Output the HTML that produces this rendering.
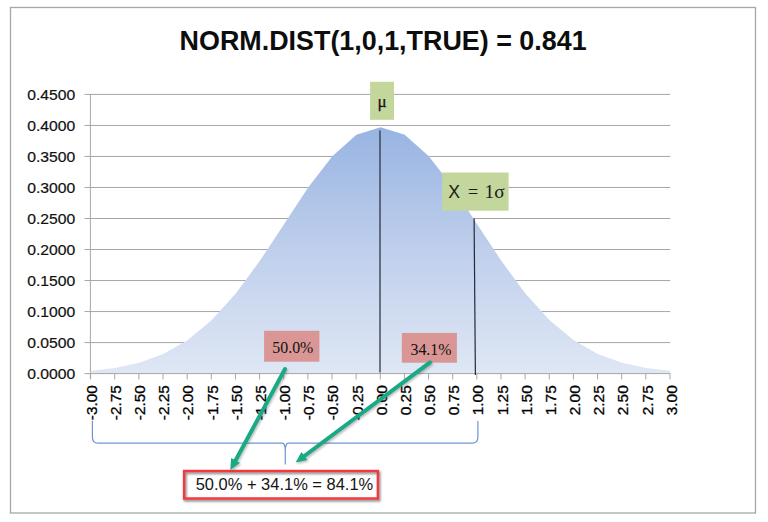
<!DOCTYPE html>
<html lang="en"><head><meta charset="utf-8"><title>NORM.DIST chart</title>
<style>html,body{margin:0;padding:0;background:#fff}body{width:768px;height:522px;overflow:hidden}svg{display:block}.sans{font-family:"Liberation Sans",sans-serif}.serif{font-family:"Liberation Serif",serif}</style></head><body>
<svg width="768" height="522" viewBox="0 0 768 522">
<defs><linearGradient id="g" x1="0" y1="0" x2="0" y2="1"><stop offset="0" stop-color="#98b4e2"/><stop offset="0.5" stop-color="#bfcfec"/><stop offset="1" stop-color="#dfe7f5"/></linearGradient><filter id="sh" x="-10%" y="-30%" width="120%" height="160%"><feGaussianBlur stdDeviation="1.2"/></filter><filter id="sh2" x="-10%" y="-10%" width="120%" height="120%"><feGaussianBlur stdDeviation="1"/></filter></defs>
<rect x="0" y="0" width="768" height="522" fill="#fff"/>
<rect x="10.5" y="7.5" width="745" height="505.5" fill="#fff" stroke="#a6a6a6" stroke-width="1.3"/>
<text class="sans" x="179.6" y="50.4" font-size="27.3" font-weight="700" fill="#0d0d0d" textLength="407" lengthAdjust="spacingAndGlyphs">NORM.DIST(1,0,1,TRUE) = 0.841</text>
<line x1="84.5" y1="342.58" x2="670.3" y2="342.58" stroke="#a6a6a6" stroke-width="1"/>
<line x1="84.5" y1="311.56" x2="670.3" y2="311.56" stroke="#a6a6a6" stroke-width="1"/>
<line x1="84.5" y1="280.54" x2="670.3" y2="280.54" stroke="#a6a6a6" stroke-width="1"/>
<line x1="84.5" y1="249.52" x2="670.3" y2="249.52" stroke="#a6a6a6" stroke-width="1"/>
<line x1="84.5" y1="218.50" x2="670.3" y2="218.50" stroke="#a6a6a6" stroke-width="1"/>
<line x1="84.5" y1="187.48" x2="670.3" y2="187.48" stroke="#a6a6a6" stroke-width="1"/>
<line x1="84.5" y1="156.46" x2="670.3" y2="156.46" stroke="#a6a6a6" stroke-width="1"/>
<line x1="84.5" y1="125.44" x2="670.3" y2="125.44" stroke="#a6a6a6" stroke-width="1"/>
<line x1="84.5" y1="94.42" x2="670.3" y2="94.42" stroke="#a6a6a6" stroke-width="1"/>
<line x1="90.4" y1="94.42" x2="90.4" y2="378.60" stroke="#a6a6a6" stroke-width="1"/>
<polygon fill="url(#g)" points="90.60,373.60 90.90,370.86 115.04,367.98 139.18,362.77 163.32,354.00 187.46,340.26 211.60,320.32 235.74,293.61 259.88,260.80 284.02,224.16 308.16,187.62 332.30,156.16 356.44,134.79 380.58,127.21 404.72,134.79 428.86,156.16 453.00,187.62 477.14,224.16 501.28,260.80 525.42,293.61 549.56,320.32 573.70,340.26 597.84,354.00 621.98,362.77 646.12,367.98 670.26,370.86 669.96,373.60"/>
<line x1="84.5" y1="373.60" x2="670.3" y2="373.60" stroke="#a6a6a6" stroke-width="1"/>
<line x1="90.60" y1="373.60" x2="90.60" y2="379.40" stroke="#a6a6a6" stroke-width="1"/>
<line x1="114.74" y1="373.60" x2="114.74" y2="379.40" stroke="#a6a6a6" stroke-width="1"/>
<line x1="138.88" y1="373.60" x2="138.88" y2="379.40" stroke="#a6a6a6" stroke-width="1"/>
<line x1="163.02" y1="373.60" x2="163.02" y2="379.40" stroke="#a6a6a6" stroke-width="1"/>
<line x1="187.16" y1="373.60" x2="187.16" y2="379.40" stroke="#a6a6a6" stroke-width="1"/>
<line x1="211.30" y1="373.60" x2="211.30" y2="379.40" stroke="#a6a6a6" stroke-width="1"/>
<line x1="235.44" y1="373.60" x2="235.44" y2="379.40" stroke="#a6a6a6" stroke-width="1"/>
<line x1="259.58" y1="373.60" x2="259.58" y2="379.40" stroke="#a6a6a6" stroke-width="1"/>
<line x1="283.72" y1="373.60" x2="283.72" y2="379.40" stroke="#a6a6a6" stroke-width="1"/>
<line x1="307.86" y1="373.60" x2="307.86" y2="379.40" stroke="#a6a6a6" stroke-width="1"/>
<line x1="332.00" y1="373.60" x2="332.00" y2="379.40" stroke="#a6a6a6" stroke-width="1"/>
<line x1="356.14" y1="373.60" x2="356.14" y2="379.40" stroke="#a6a6a6" stroke-width="1"/>
<line x1="380.28" y1="373.60" x2="380.28" y2="379.40" stroke="#a6a6a6" stroke-width="1"/>
<line x1="404.42" y1="373.60" x2="404.42" y2="379.40" stroke="#a6a6a6" stroke-width="1"/>
<line x1="428.56" y1="373.60" x2="428.56" y2="379.40" stroke="#a6a6a6" stroke-width="1"/>
<line x1="452.70" y1="373.60" x2="452.70" y2="379.40" stroke="#a6a6a6" stroke-width="1"/>
<line x1="476.84" y1="373.60" x2="476.84" y2="379.40" stroke="#a6a6a6" stroke-width="1"/>
<line x1="500.98" y1="373.60" x2="500.98" y2="379.40" stroke="#a6a6a6" stroke-width="1"/>
<line x1="525.12" y1="373.60" x2="525.12" y2="379.40" stroke="#a6a6a6" stroke-width="1"/>
<line x1="549.26" y1="373.60" x2="549.26" y2="379.40" stroke="#a6a6a6" stroke-width="1"/>
<line x1="573.40" y1="373.60" x2="573.40" y2="379.40" stroke="#a6a6a6" stroke-width="1"/>
<line x1="597.54" y1="373.60" x2="597.54" y2="379.40" stroke="#a6a6a6" stroke-width="1"/>
<line x1="621.68" y1="373.60" x2="621.68" y2="379.40" stroke="#a6a6a6" stroke-width="1"/>
<line x1="645.82" y1="373.60" x2="645.82" y2="379.40" stroke="#a6a6a6" stroke-width="1"/>
<line x1="669.96" y1="373.60" x2="669.96" y2="379.40" stroke="#a6a6a6" stroke-width="1"/>
<text class="sans" x="27.2" y="379.00" font-size="15.2" fill="#111" stroke="#111" stroke-width="0.2" textLength="48" lengthAdjust="spacingAndGlyphs">0.0000</text>
<text class="sans" x="27.2" y="347.98" font-size="15.2" fill="#111" stroke="#111" stroke-width="0.2" textLength="48" lengthAdjust="spacingAndGlyphs">0.0500</text>
<text class="sans" x="27.2" y="316.96" font-size="15.2" fill="#111" stroke="#111" stroke-width="0.2" textLength="48" lengthAdjust="spacingAndGlyphs">0.1000</text>
<text class="sans" x="27.2" y="285.94" font-size="15.2" fill="#111" stroke="#111" stroke-width="0.2" textLength="48" lengthAdjust="spacingAndGlyphs">0.1500</text>
<text class="sans" x="27.2" y="254.92" font-size="15.2" fill="#111" stroke="#111" stroke-width="0.2" textLength="48" lengthAdjust="spacingAndGlyphs">0.2000</text>
<text class="sans" x="27.2" y="223.90" font-size="15.2" fill="#111" stroke="#111" stroke-width="0.2" textLength="48" lengthAdjust="spacingAndGlyphs">0.2500</text>
<text class="sans" x="27.2" y="192.88" font-size="15.2" fill="#111" stroke="#111" stroke-width="0.2" textLength="48" lengthAdjust="spacingAndGlyphs">0.3000</text>
<text class="sans" x="27.2" y="161.86" font-size="15.2" fill="#111" stroke="#111" stroke-width="0.2" textLength="48" lengthAdjust="spacingAndGlyphs">0.3500</text>
<text class="sans" x="27.2" y="130.84" font-size="15.2" fill="#111" stroke="#111" stroke-width="0.2" textLength="48" lengthAdjust="spacingAndGlyphs">0.4000</text>
<text class="sans" x="27.2" y="99.82" font-size="15.2" fill="#111" stroke="#111" stroke-width="0.2" textLength="48" lengthAdjust="spacingAndGlyphs">0.4500</text>
<text class="sans" transform="translate(96.70,385.3) rotate(-90)" text-anchor="end" font-size="14.9" fill="#000" stroke="#000" stroke-width="0.3" textLength="34.9" lengthAdjust="spacingAndGlyphs">-3.00</text>
<text class="sans" transform="translate(120.87,385.3) rotate(-90)" text-anchor="end" font-size="14.9" fill="#000" stroke="#000" stroke-width="0.3" textLength="34.9" lengthAdjust="spacingAndGlyphs">-2.75</text>
<text class="sans" transform="translate(145.04,385.3) rotate(-90)" text-anchor="end" font-size="14.9" fill="#000" stroke="#000" stroke-width="0.3" textLength="34.9" lengthAdjust="spacingAndGlyphs">-2.50</text>
<text class="sans" transform="translate(169.21,385.3) rotate(-90)" text-anchor="end" font-size="14.9" fill="#000" stroke="#000" stroke-width="0.3" textLength="34.9" lengthAdjust="spacingAndGlyphs">-2.25</text>
<text class="sans" transform="translate(193.38,385.3) rotate(-90)" text-anchor="end" font-size="14.9" fill="#000" stroke="#000" stroke-width="0.3" textLength="34.9" lengthAdjust="spacingAndGlyphs">-2.00</text>
<text class="sans" transform="translate(217.55,385.3) rotate(-90)" text-anchor="end" font-size="14.9" fill="#000" stroke="#000" stroke-width="0.3" textLength="34.9" lengthAdjust="spacingAndGlyphs">-1.75</text>
<text class="sans" transform="translate(241.72,385.3) rotate(-90)" text-anchor="end" font-size="14.9" fill="#000" stroke="#000" stroke-width="0.3" textLength="34.9" lengthAdjust="spacingAndGlyphs">-1.50</text>
<text class="sans" transform="translate(265.89,385.3) rotate(-90)" text-anchor="end" font-size="14.9" fill="#000" stroke="#000" stroke-width="0.3" textLength="34.9" lengthAdjust="spacingAndGlyphs">-1.25</text>
<text class="sans" transform="translate(290.06,385.3) rotate(-90)" text-anchor="end" font-size="14.9" fill="#000" stroke="#000" stroke-width="0.3" textLength="34.9" lengthAdjust="spacingAndGlyphs">-1.00</text>
<text class="sans" transform="translate(314.23,385.3) rotate(-90)" text-anchor="end" font-size="14.9" fill="#000" stroke="#000" stroke-width="0.3" textLength="34.9" lengthAdjust="spacingAndGlyphs">-0.75</text>
<text class="sans" transform="translate(338.40,385.3) rotate(-90)" text-anchor="end" font-size="14.9" fill="#000" stroke="#000" stroke-width="0.3" textLength="34.9" lengthAdjust="spacingAndGlyphs">-0.50</text>
<text class="sans" transform="translate(362.57,385.3) rotate(-90)" text-anchor="end" font-size="14.9" fill="#000" stroke="#000" stroke-width="0.3" textLength="34.9" lengthAdjust="spacingAndGlyphs">-0.25</text>
<text class="sans" transform="translate(386.74,385.3) rotate(-90)" text-anchor="end" font-size="14.9" fill="#000" stroke="#000" stroke-width="0.3" textLength="30.0" lengthAdjust="spacingAndGlyphs">0.00</text>
<text class="sans" transform="translate(410.91,385.3) rotate(-90)" text-anchor="end" font-size="14.9" fill="#000" stroke="#000" stroke-width="0.3" textLength="30.0" lengthAdjust="spacingAndGlyphs">0.25</text>
<text class="sans" transform="translate(435.08,385.3) rotate(-90)" text-anchor="end" font-size="14.9" fill="#000" stroke="#000" stroke-width="0.3" textLength="30.0" lengthAdjust="spacingAndGlyphs">0.50</text>
<text class="sans" transform="translate(459.25,385.3) rotate(-90)" text-anchor="end" font-size="14.9" fill="#000" stroke="#000" stroke-width="0.3" textLength="30.0" lengthAdjust="spacingAndGlyphs">0.75</text>
<text class="sans" transform="translate(483.42,385.3) rotate(-90)" text-anchor="end" font-size="14.9" fill="#000" stroke="#000" stroke-width="0.3" textLength="30.0" lengthAdjust="spacingAndGlyphs">1.00</text>
<text class="sans" transform="translate(507.59,385.3) rotate(-90)" text-anchor="end" font-size="14.9" fill="#000" stroke="#000" stroke-width="0.3" textLength="30.0" lengthAdjust="spacingAndGlyphs">1.25</text>
<text class="sans" transform="translate(531.76,385.3) rotate(-90)" text-anchor="end" font-size="14.9" fill="#000" stroke="#000" stroke-width="0.3" textLength="30.0" lengthAdjust="spacingAndGlyphs">1.50</text>
<text class="sans" transform="translate(555.93,385.3) rotate(-90)" text-anchor="end" font-size="14.9" fill="#000" stroke="#000" stroke-width="0.3" textLength="30.0" lengthAdjust="spacingAndGlyphs">1.75</text>
<text class="sans" transform="translate(580.10,385.3) rotate(-90)" text-anchor="end" font-size="14.9" fill="#000" stroke="#000" stroke-width="0.3" textLength="30.0" lengthAdjust="spacingAndGlyphs">2.00</text>
<text class="sans" transform="translate(604.27,385.3) rotate(-90)" text-anchor="end" font-size="14.9" fill="#000" stroke="#000" stroke-width="0.3" textLength="30.0" lengthAdjust="spacingAndGlyphs">2.25</text>
<text class="sans" transform="translate(628.44,385.3) rotate(-90)" text-anchor="end" font-size="14.9" fill="#000" stroke="#000" stroke-width="0.3" textLength="30.0" lengthAdjust="spacingAndGlyphs">2.50</text>
<text class="sans" transform="translate(652.61,385.3) rotate(-90)" text-anchor="end" font-size="14.9" fill="#000" stroke="#000" stroke-width="0.3" textLength="30.0" lengthAdjust="spacingAndGlyphs">2.75</text>
<text class="sans" transform="translate(676.78,385.3) rotate(-90)" text-anchor="end" font-size="14.9" fill="#000" stroke="#000" stroke-width="0.3" textLength="30.0" lengthAdjust="spacingAndGlyphs">3.00</text>
<line x1="380.0" y1="130.5" x2="380.0" y2="372.6" stroke="#262a35" stroke-width="1.2"/>
<line x1="474.1" y1="218.6" x2="475.4" y2="375.0" stroke="#262a35" stroke-width="1.2"/>
<rect x="370.1" y="81.8" width="23.9" height="38" fill="#c3d69b"/>
<text class="serif" x="377.6" y="107" font-size="17" fill="#111" stroke="#111" stroke-width="0.25">μ</text>
<rect x="442.2" y="172.5" width="66.4" height="38.2" fill="#c3d69b"/>
<text class="sans" x="448.3" y="197.8" font-size="18.4" fill="#1a1a1a" textLength="11.8" lengthAdjust="spacingAndGlyphs">X</text>
<text class="serif" x="468.0" y="197.8" font-size="18" fill="#1a1a1a">=</text>
<text class="serif" x="484.6" y="197.8" font-size="18" fill="#1a1a1a" textLength="20" lengthAdjust="spacingAndGlyphs">1σ</text>
<rect x="264.1" y="330.8" width="55.3" height="30.9" fill="#d99694"/>
<text class="serif" x="272.3" y="352.8" font-size="16" fill="#111" textLength="41" lengthAdjust="spacingAndGlyphs">50.0%</text>
<rect x="401.8" y="332.9" width="55.1" height="29.8" fill="#d99694"/>
<text class="serif" x="410.5" y="354.5" font-size="16" fill="#111" textLength="41" lengthAdjust="spacingAndGlyphs">34.1%</text>
<path d="M92.4 420.8 V437 Q92.4 443.1 98 443.1 H282.2 Q285.3 443.3 285.3 451 V464.5 M285.3 451 Q285.3 443.3 288.4 443.1 H472.3 Q477.9 443.1 477.9 437 V421" fill="none" stroke="#6f96d2" stroke-width="1.2"/>
<rect x="185.3" y="472.7" width="193.8" height="27.5" fill="none" stroke="#000" stroke-width="3" opacity="0.42" filter="url(#sh)"/>
<rect x="184.1" y="471" width="193.8" height="27.5" fill="none" stroke="#f8363d" stroke-width="2.4"/>
<text class="sans" x="195.7" y="490.4" font-size="16.6" fill="#151515" textLength="177.5" lengthAdjust="spacingAndGlyphs">50.0% + 34.1% = 84.1%</text>
<g opacity="0.35" filter="url(#sh2)" transform="translate(1.2,1.6)">
<line x1="285.00" y1="369.00" x2="235.06" y2="461.21" stroke="#444" stroke-width="3.9" stroke-linecap="round"/>
<polygon points="230.30,470.00 231.14,457.95 239.94,462.71" fill="#444"/>
<line x1="430.00" y1="362.40" x2="303.62" y2="456.53" stroke="#444" stroke-width="3.9" stroke-linecap="round"/>
<polygon points="295.60,462.50 301.44,451.92 307.41,459.94" fill="#444"/>
</g>
<line x1="285.00" y1="369.00" x2="235.06" y2="461.21" stroke="#18a985" stroke-width="3.9" stroke-linecap="round"/>
<polygon points="230.30,470.00 231.14,457.95 239.94,462.71" fill="#18a985"/>
<line x1="430.00" y1="362.40" x2="303.62" y2="456.53" stroke="#18a985" stroke-width="3.9" stroke-linecap="round"/>
<polygon points="295.60,462.50 301.44,451.92 307.41,459.94" fill="#18a985"/>
</svg></body></html>
